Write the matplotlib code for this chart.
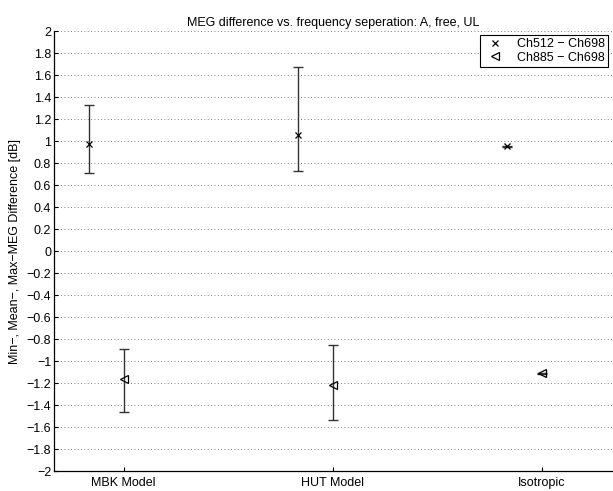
import matplotlib

matplotlib.use('Agg')
import matplotlib.pyplot as plt
from matplotlib.ticker import MultipleLocator, FuncFormatter
from matplotlib.lines import Line2D

plt.rcParams['font.family'] = ['Liberation Sans', 'DejaVu Sans']
plt.rcParams['font.size'] = 9

models = ['MBK Model', 'HUT Model', 'Isotropic']
positions = [1, 2, 3]

# Ch512 - Ch698: mean, min, max [dB]
ch512_mean = [0.98, 1.06, 0.955]
ch512_min = [0.71, 0.735, 0.945]
ch512_max = [1.33, 1.675, 0.962]

# Ch885 - Ch698: mean, min, max [dB]
ch885_mean = [-1.16, -1.215, -1.11]
ch885_min = [-1.46, -1.535, -1.117]
ch885_max = [-0.89, -0.85, -1.103]

series_labels = ['Ch512 \u2212 Ch698', 'Ch885 \u2212 Ch698']


def draw_series(ax, xs, mean, lo, hi, marker, msize):
    """Mittelwert mit Min/Max-Balken zeichnen."""
    err = [[m - l for m, l in zip(mean, lo)], [h - m for m, h in zip(mean, hi)]]
    ax.errorbar(xs, mean, yerr=err, fmt='none', ecolor='#333333',
                elinewidth=1.0, capsize=3.5, capthick=1.0, zorder=3)
    ax.plot(xs, mean, linestyle='none', marker=marker, markersize=msize,
            markerfacecolor='none', markeredgecolor='black',
            markeredgewidth=0.9, zorder=4)


fig = plt.figure(figsize=(6.13, 4.91), dpi=100)
ax = fig.add_axes([0.0881, 0.0401, 0.910, 0.896])

x512 = [p - 1 / 6 for p in positions]
draw_series(ax, x512, ch512_mean, ch512_min, ch512_max, 'x', 4.5)
draw_series(ax, positions, ch885_mean, ch885_min, ch885_max, '<', 5.5)

ax.set_xlim(2 / 3, 10 / 3)
ax.set_ylim(-2, 2)
ax.set_xticks(positions)
ax.set_xticklabels(models)
ax.yaxis.set_major_locator(MultipleLocator(0.2))


def fmt(v, pos):
    s = f'{round(v, 2):g}'
    if s in ('-0', '0'):
        return '0'
    return s.replace('-', '\u2212')


ax.yaxis.set_major_formatter(FuncFormatter(fmt))
ax.grid(axis='y', linestyle=(0, (1, 3)), color='#555555', linewidth=0.6)
ax.tick_params(direction='in', length=3, width=0.8)
ax.tick_params(axis='y', pad=2)
ax.tick_params(axis='x', pad=4)
ax.spines['top'].set_visible(False)
ax.spines['right'].set_visible(False)
for s in ('left', 'bottom'):
    ax.spines[s].set_linewidth(0.9)

ax.set_ylabel('Min\u2212, Mean\u2212, Max\u2212MEG Difference [dB]', labelpad=4)
ax.set_title('MEG difference vs. frequency seperation: A, free, UL',
             fontsize=9, pad=4)

handles = [
    Line2D([], [], linestyle='none', marker='x', markersize=4.5,
           markeredgecolor='black', markeredgewidth=0.9),
    Line2D([], [], linestyle='none', marker='<', markersize=5.5,
           markerfacecolor='none', markeredgecolor='black', markeredgewidth=0.9),
]
leg = ax.legend(handles, series_labels, loc='upper right',
                bbox_to_anchor=(0.995, 0.995), borderaxespad=0.1,
                fancybox=False, framealpha=1, edgecolor='black',
                borderpad=0.25, handlelength=2.0, handletextpad=0.7,
                labelspacing=0.15, fontsize=9)
leg.get_frame().set_linewidth(0.8)

fig.savefig('out.png', dpi=100)
